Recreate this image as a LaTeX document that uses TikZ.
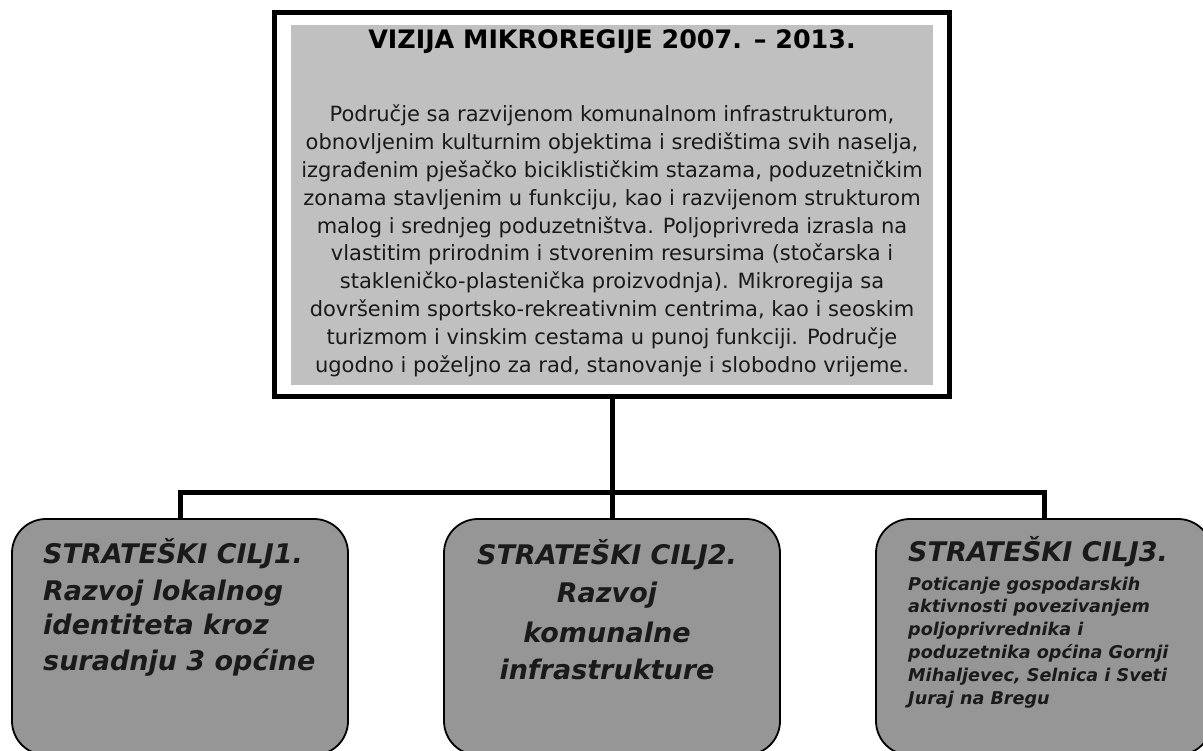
\documentclass[tikz,border=0pt]{standalone}
\usepackage{fontspec}
\setmainfont{DejaVu Sans}
\definecolor{visgray}{HTML}{C0C0C0}
\definecolor{boxgray}{HTML}{969696}
\definecolor{ink}{HTML}{1A1A1A}
\begin{document}
\begin{tikzpicture}[x=1pt,y=-1pt,
  outerbox/.style={draw=black,line width=5pt,minimum width=675pt,minimum height=384pt,inner sep=0pt},
  visfill/.style={fill=visgray,minimum width=642pt,minimum height=360pt,inner sep=0pt},
  goalbox/.style={draw=black,line width=1.8pt,fill=boxgray,rounded corners=34pt,minimum width=336pt,minimum height=236pt,inner sep=0pt},
  link/.style={draw=black,line width=5pt},
  titletxt/.style={anchor=base,inner sep=0pt,text=black,font=\bfseries\fontsize{25.4}{30}\selectfont},
  bodytxt/.style={anchor=base,inner sep=0pt,text=ink,font=\fontsize{21}{25}\selectfont},
  goalhead/.style={anchor=base west,inner sep=0pt,text=ink,font=\bfseries\itshape\fontsize{27}{32}\selectfont},
  goalmid/.style={anchor=base,inner sep=0pt,text=ink,font=\bfseries\itshape\fontsize{27}{32}\selectfont},
  goalsmall/.style={anchor=base west,inner sep=0pt,text=ink,font=\bfseries\itshape\fontsize{17.6}{20}\selectfont}
]
\useasboundingbox (0,0) rectangle (1203,751);
\clip (0,0) rectangle (1203,751);

% vision box
\node[outerbox] (vis) at (612,204.5) {};
\node[visfill] (visbg) at (612,205) {};
\node[titletxt] (title) at (612,49) {VIZIJA MIKROREGIJE 2007. – 2013.};
\node[bodytxt] (l1) at (612,121.5) {Područje sa razvijenom komunalnom infrastrukturom,};
\node[bodytxt] (l2) at (612,149.4) {obnovljenim kulturnim objektima i središtima svih naselja,};
\node[bodytxt] (l3) at (612,177.3) {izgrađenim pješačko biciklističkim stazama, poduzetničkim};
\node[bodytxt] (l4) at (612,205.2) {zonama stavljenim u funkciju, kao i razvijenom strukturom};
\node[bodytxt] (l5) at (612,233.1) {malog i srednjeg poduzetništva. Poljoprivreda izrasla na};
\node[bodytxt] (l6) at (612,261.0) {vlastitim prirodnim i stvorenim resursima (stočarska i};
\node[bodytxt] (l7) at (612,288.9) {stakleničko-plastenička proizvodnja). Mikroregija sa};
\node[bodytxt] (l8) at (612,316.8) {dovršenim sportsko-rekreativnim centrima, kao i seoskim};
\node[bodytxt] (l9) at (612,344.7) {turizmom i vinskim cestama u punoj funkciji. Područje};
\node[bodytxt] (l10) at (612,372.6) {ugodno i poželjno za rad, stanovanje i slobodno vrijeme.};

% goal boxes
\node[goalbox] (g1) at (180,637) {};
\node[goalbox] (g2) at (612,637) {};
\node[goalbox] (g3) at (1044,637) {};

% connectors
\coordinate (jn) at (612,492.5);
\draw[link] (vis.south) -- (jn);
\draw[link] (g1.north) |- (jn) -| (g3.north);
\draw[link] (jn) -- (g2.north);

% goal 1 text
\node[goalhead] (g1a) at (43,563) {STRATEŠKI CILJ1.};
\node[goalhead] (g1b) at (43,600) {Razvoj lokalnog};
\node[goalhead] (g1c) at (43,634) {identiteta kroz};
\node[goalhead] (g1d) at (43,670) {suradnju 3 općine};

% goal 2 text
\node[goalmid] (g2a) at (607,564) {STRATEŠKI CILJ2.};
\node[goalmid] (g2b) at (607,602) {Razvoj};
\node[goalmid] (g2c) at (607,642) {komunalne};
\node[goalmid] (g2d) at (607,679) {infrastrukture};

% goal 3 text
\node[goalhead] (g3a) at (908,561) {STRATEŠKI CILJ3.};
\node[goalsmall] (g3b) at (908,590) {Poticanje gospodarskih};
\node[goalsmall] (g3c) at (908,612.5) {aktivnosti povezivanjem};
\node[goalsmall] (g3d) at (908,635.5) {poljoprivrednika i};
\node[goalsmall] (g3e) at (908,658) {poduzetnika općina Gornji};
\node[goalsmall] (g3f) at (908,681.3) {Mihaljevec, Selnica i Sveti};
\node[goalsmall] (g3g) at (908,704.7) {Juraj na Bregu};
\end{tikzpicture}
\end{document}
